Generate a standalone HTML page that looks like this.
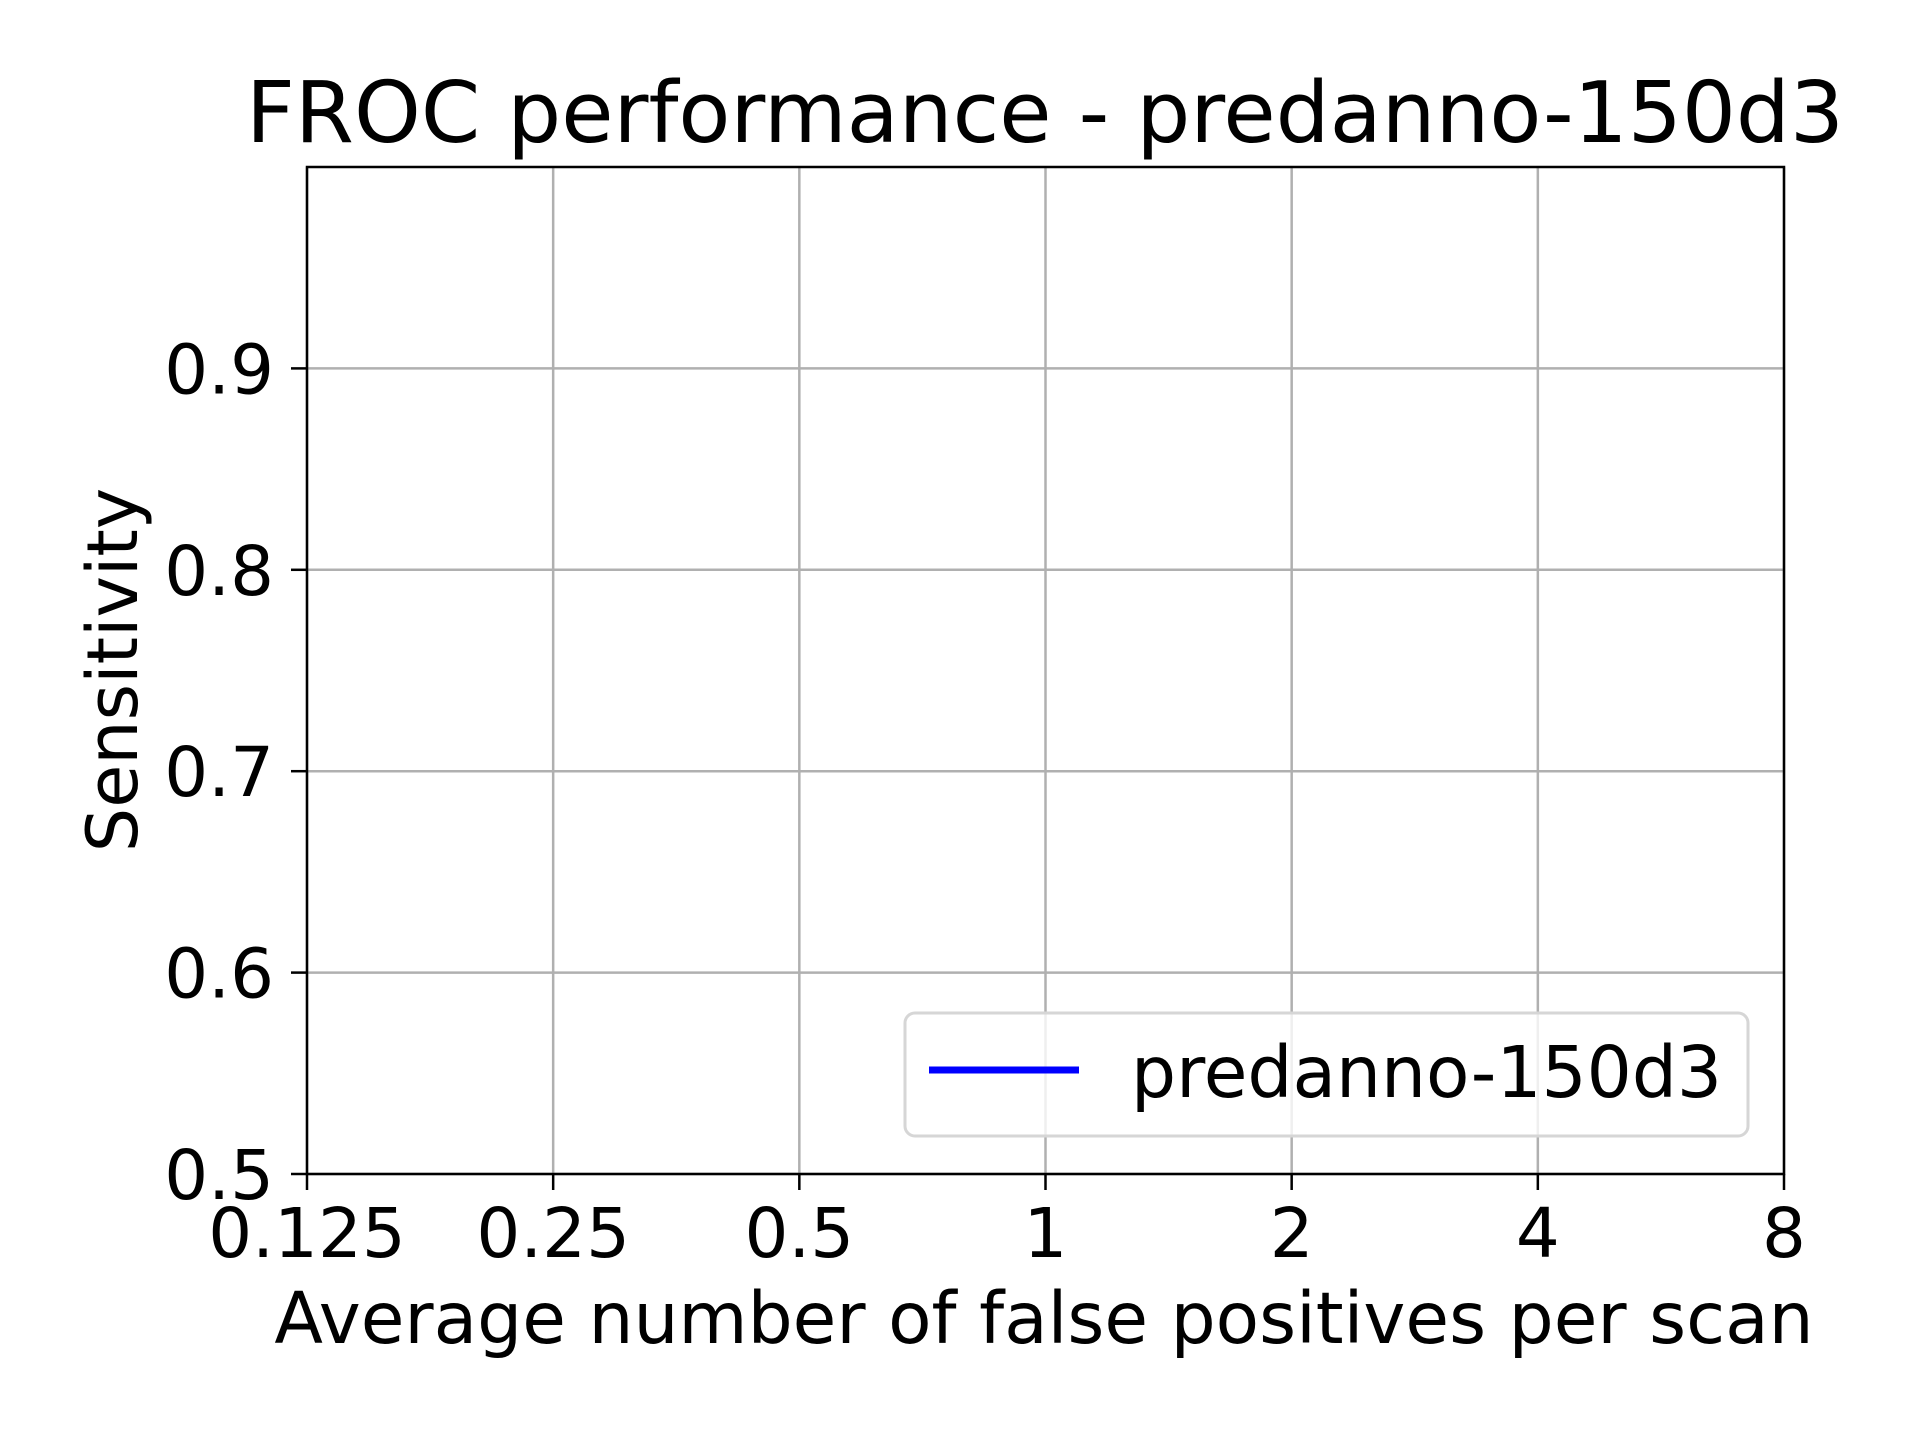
<!DOCTYPE html>
<html><head><meta charset="utf-8">
<style>
html,body{margin:0;padding:0;background:#fff;}
svg{display:block;font-family:"DejaVu Sans","Liberation Sans",sans-serif;}
</style></head>
<body>
<svg id="chart" width="1920" height="1440" viewBox="0 0 1920 1440" xmlns="http://www.w3.org/2000/svg">
<rect width="1920" height="1440" fill="#fff"/>
<text x="1045" y="142" font-size="85" text-anchor="middle">FROC performance - predanno-150d3</text>
<g id="grid"></g>
<g id="series"></g>
<rect x="307" y="167" width="1477" height="1007" fill="none" stroke="#000" stroke-width="2.5"/>
<g id="ticks"></g>
<text x="1044" y="1343" font-size="71" text-anchor="middle">Average number of false positives per scan</text>
<text transform="translate(137,670) rotate(-90)" font-size="70" text-anchor="middle">Sensitivity</text>
<g>
<rect x="905" y="1013" width="843" height="123" rx="10" fill="#fff" fill-opacity="0.8" stroke="#d6d6d6" stroke-width="3"/>
<line x1="929" y1="1070" x2="1079" y2="1070" stroke="#0000ff" stroke-width="7"/>
<text x="1131" y="1097" font-size="71">predanno-150d3</text>
</g>
</svg>
<script>
const xTicks = [0.125, 0.25, 0.5, 1, 2, 4, 8];
const xTickLabels = ["0.125", "0.25", "0.5", "1", "2", "4", "8"];
const yTicks = [0.5, 0.6, 0.7, 0.8, 0.9];
const yTickLabels = ["0.5", "0.6", "0.7", "0.8", "0.9"];
const seriesFps = [];
const seriesSens = [];

const L=307,R=1784,T=167,B=1174;
const xMin=0.125,xMax=8,yMin=0.5,yMax=1.0;
const NS="http://www.w3.org/2000/svg";
function xs(v){return L+(Math.log2(v)-Math.log2(xMin))/(Math.log2(xMax)-Math.log2(xMin))*(R-L);}
function ys(v){return B-(v-yMin)/(yMax-yMin)*(B-T);}
function mk(tag,attrs,parent){const e=document.createElementNS(NS,tag);for(const k in attrs)e.setAttribute(k,attrs[k]);parent.appendChild(e);return e;}
const grid=document.getElementById('grid'),ticks=document.getElementById('ticks'),ser=document.getElementById('series');
xTicks.forEach((v,i)=>{
  const x=xs(v);
  const g=mk('line',{x1:x,y1:T,x2:x,y2:B,stroke:'#b0b0b0','stroke-width':2.5},grid);
  
  
  const t=mk('line',{x1:x,y1:B,x2:x,y2:B+16,stroke:'#000','stroke-width':2.5},ticks);
  
  
  const lb=mk('text',{x:x,y:1257,'font-size':69,'text-anchor':'middle'},ticks);
  lb.textContent=xTickLabels[i];
  
  
});
yTicks.forEach((v,i)=>{
  const y=ys(v);
  const g=mk('line',{x1:L,y1:y,x2:R,y2:y,stroke:'#b0b0b0','stroke-width':2.5},grid);
  
  
  const t=mk('line',{x1:L-16,y1:y,x2:L,y2:y,stroke:'#000','stroke-width':2.5},ticks);
  
  
  const lb=mk('text',{x:274,y:y+25,'font-size':69,'text-anchor':'end'},ticks);
  lb.textContent=yTickLabels[i];
  
  
});
if(seriesFps.length){
  const clip=mk('clipPath',{id:'pc'},ser);
  mk('rect',{x:L,y:T,width:R-L,height:B-T},clip);
  const pts=seriesFps.map((f,i)=>xs(f)+','+ys(seriesSens[i])).join(' ');
  const pl=mk('polyline',{points:pts,fill:'none',stroke:'#0000ff','stroke-width':7,'clip-path':'url(#pc)'},ser);
  
  
}
</script>
</body></html>
